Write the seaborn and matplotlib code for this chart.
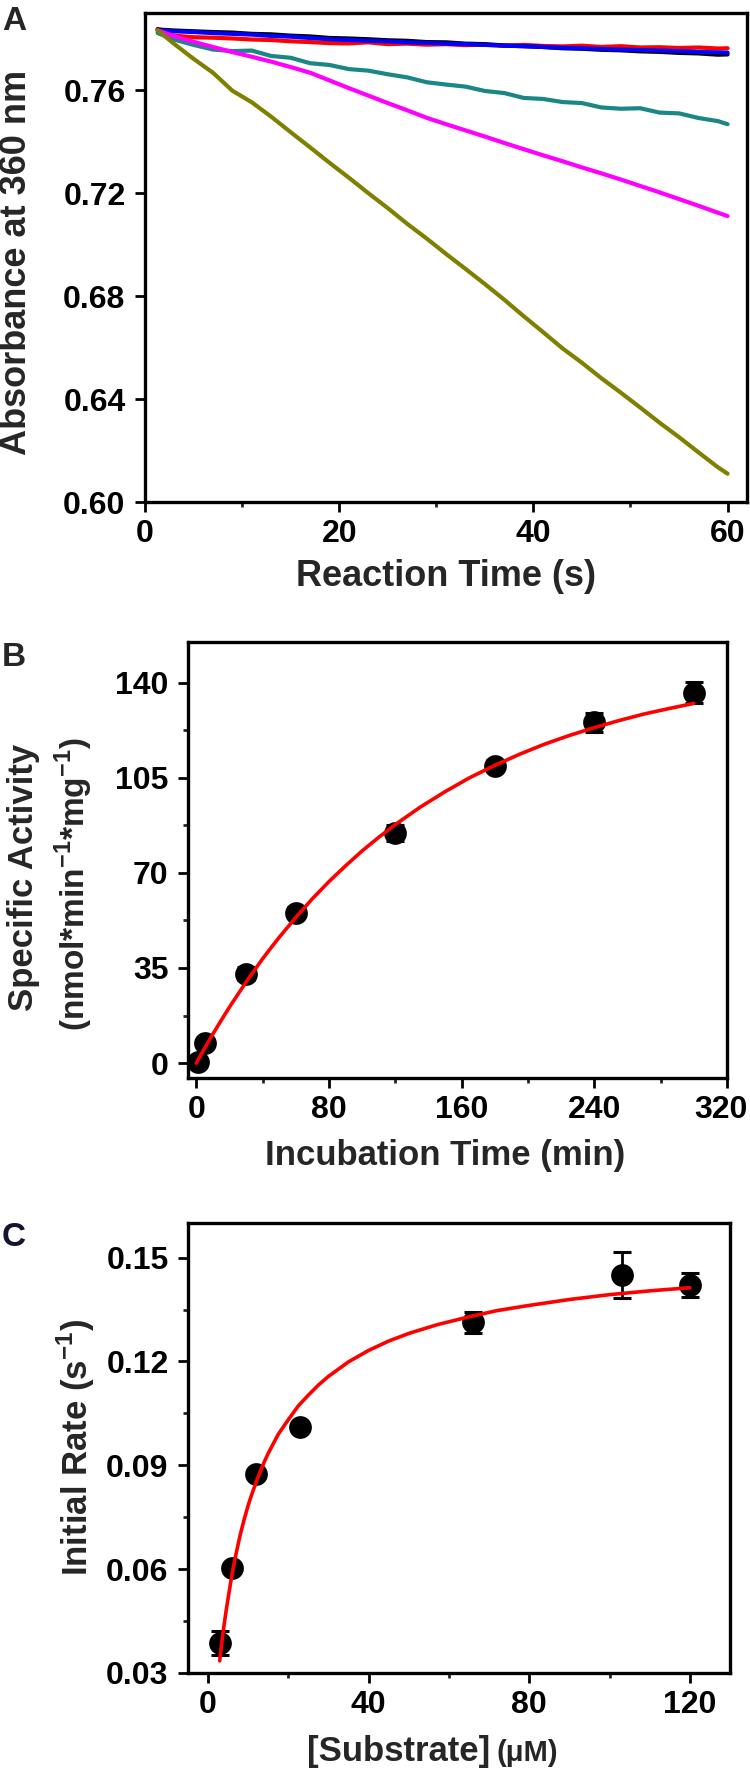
import matplotlib
matplotlib.use("Agg")
import matplotlib.pyplot as plt
import matplotlib.transforms as mtransforms
import seaborn as sns
from matplotlib.ticker import MultipleLocator, FormatStrFormatter

# ---- panel A: absorbance traces at 360 nm ----
time_s = [1.3, 3, 5, 7, 9, 11, 13, 15, 17, 19, 21, 23, 25, 27, 29, 31,
          33, 35, 37, 39, 41, 43, 45, 47, 49, 51, 53, 55, 57, 59, 60]
trace_red = [0.7838, 0.7812, 0.7806, 0.7804, 0.7801, 0.7797, 0.7795, 0.7790,
             0.7787, 0.7783, 0.7782, 0.7786, 0.7779, 0.7781, 0.7777, 0.7779,
             0.7775, 0.7777, 0.7773, 0.7776, 0.7772, 0.7770, 0.7773, 0.7768,
             0.7771, 0.7766, 0.7767, 0.7764, 0.7766, 0.7762, 0.7763]
trace_black = [0.7836, 0.7832, 0.7829, 0.7826, 0.7824, 0.7819, 0.7817, 0.7812,
               0.7809, 0.7803, 0.7801, 0.7798, 0.7794, 0.7792, 0.7787, 0.7786,
               0.7781, 0.7779, 0.7774, 0.7771, 0.7768, 0.7763, 0.7761, 0.7757,
               0.7755, 0.7751, 0.7749, 0.7745, 0.7743, 0.7738, 0.7739]
trace_blue = [0.7832, 0.7829, 0.7826, 0.7822, 0.7819, 0.7816, 0.7811, 0.7808,
              0.7803, 0.7798, 0.7795, 0.7792, 0.7790, 0.7786, 0.7784, 0.7781,
              0.7779, 0.7776, 0.7773, 0.7771, 0.7768, 0.7765, 0.7763, 0.7760,
              0.7758, 0.7756, 0.7754, 0.7752, 0.7749, 0.7747, 0.7746]
trace_teal = [0.7822, 0.7797, 0.7776, 0.7758, 0.7752, 0.7754, 0.7733, 0.7726,
              0.7705, 0.7698, 0.7682, 0.7676, 0.7662, 0.7650, 0.7631, 0.7622,
              0.7614, 0.7597, 0.7589, 0.7570, 0.7566, 0.7554, 0.7550, 0.7533,
              0.7528, 0.7530, 0.7513, 0.7510, 0.7492, 0.7480, 0.7468]
trace_magenta = [0.7833, 0.7810, 0.7788, 0.7768, 0.7748, 0.7730, 0.7711, 0.7690,
                 0.7668, 0.7638, 0.7608, 0.7579, 0.7550, 0.7522, 0.7493, 0.7468,
                 0.7444, 0.7420, 0.7395, 0.7371, 0.7347, 0.7324, 0.7300, 0.7277,
                 0.7253, 0.7228, 0.7203, 0.7177, 0.7151, 0.7124, 0.7111]
trace_olive = [0.7833, 0.7780, 0.7722, 0.7668, 0.7598, 0.7553, 0.7497, 0.7437,
               0.7378, 0.7318, 0.7260, 0.7200, 0.7142, 0.7081, 0.7024, 0.6964,
               0.6906, 0.6847, 0.6786, 0.6722, 0.6660, 0.6597, 0.6541, 0.6481,
               0.6425, 0.6367, 0.6308, 0.6252, 0.6193, 0.6135, 0.6110]
trace_names = ["red", "black", "blue", "teal", "magenta", "olive"]
trace_colors = ["#ff0000", "#000000", "#0000ff", "#1a8686", "#ff00ff", "#808000"]

# ---- panel B: specific activity vs incubation time ----
incub_min = [1, 5, 30, 60, 120, 180, 240, 300]
activity = [0.5, 7.5, 32.9, 55.4, 84.7, 109.4, 125.4, 136.4]
activity_err = [0, 0, 2.3, 2.0, 3.0, 2.0, 3.4, 4.0]
fit_b_t = [0, 5, 10, 15, 20, 30, 40, 45, 50, 60, 70, 80, 90, 100, 110, 120,
           135, 150, 165, 180, 195, 210, 225, 240, 255, 270, 285, 300]
fit_b_y = [0, 5.4, 10.7, 15.7, 20.6, 29.8, 38.4, 42.4, 46.3, 53.6, 60.5, 66.8,
           72.6, 78.1, 83.1, 87.8, 94.2, 99.9, 105.1, 109.6, 113.7, 117.4,
           120.6, 123.5, 126.1, 128.5, 130.5, 132.4]

# ---- panel C: initial rate vs substrate ----
substrate_uM = [3, 6, 12, 23, 66, 103, 120]
init_rate = [0.0387, 0.0603, 0.0875, 0.1011, 0.1313, 0.1450, 0.1421]
init_rate_err = [0.0034, 0, 0, 0, 0.0031, 0.0066, 0.0035]
fit_c_s = [2.9, 3.2, 3.5, 4, 4.5, 5, 6, 7, 8, 9, 10, 11, 12.5, 14, 15, 17.5,
           20, 22.5, 25, 27.5, 30, 35, 40, 45, 50, 57, 65, 72, 80, 90, 100, 110, 120]
fit_c_v = [0.0335, 0.0366, 0.0395, 0.0440, 0.0480, 0.0517, 0.0588, 0.0646,
           0.0699, 0.0744, 0.0785, 0.0820, 0.0868, 0.0910, 0.0935, 0.0990,
           0.1032, 0.1072, 0.1103, 0.1132, 0.1157, 0.1199, 0.1232, 0.1259,
           0.1281, 0.1306, 0.1329, 0.1347, 0.1362, 0.1379, 0.1393, 0.1404, 0.1413]

sns.set_style("ticks")
plt.rcParams["font.family"] = ["Liberation Sans", "DejaVu Sans"]
plt.rcParams["font.weight"] = "bold"
plt.rcParams["mathtext.fontset"] = "custom"
plt.rcParams["mathtext.rm"] = "Liberation Sans:bold"
plt.rcParams["mathtext.bf"] = "Liberation Sans:bold"

W, H = 750, 1770
fig = plt.figure(figsize=(W / 100, H / 100), dpi=100)


def rect(left, top, right, bottom):
    return [left / W, 1 - bottom / H, (right - left) / W, (bottom - top) / H]


def style_axes(ax):
    for sp in ax.spines.values():
        sp.set_visible(True)
        sp.set_linewidth(2.4)
        sp.set_color("black")
    ax.tick_params(which="major", direction="out", length=7, width=2,
                   labelsize=23, colors="black")
    ax.tick_params(which="minor", direction="out", length=3.6, width=2)
    ax.tick_params(axis="x", which="major", pad=5)
    ax.tick_params(axis="y", which="major", pad=7)
    ax.set_xlabel("")
    ax.set_ylabel("")


# panel A
ax_a = fig.add_axes(rect(145, 13, 747, 502))
traces = [trace_red, trace_black, trace_blue, trace_teal, trace_magenta, trace_olive]
for name, vals, col in zip(trace_names, traces, trace_colors):
    sns.lineplot(x=time_s, y=vals, ax=ax_a, color=col, linewidth=3.0)
ax_a.set_xlim(0, 62)
ax_a.set_ylim(0.60, 0.79)
ax_a.xaxis.set_major_locator(MultipleLocator(20))
ax_a.xaxis.set_minor_locator(MultipleLocator(10))
ax_a.set_yticks([0.60, 0.64, 0.68, 0.72, 0.76])
ax_a.yaxis.set_major_formatter(FormatStrFormatter("%.2f"))
style_axes(ax_a)

# panel B
ax_b = fig.add_axes(rect(188, 642, 727, 1078))
ax_b.errorbar(incub_min, activity, yerr=activity_err, fmt="none", ecolor="black",
              elinewidth=2, capsize=6.5, capthick=2.2, zorder=2)
sns.scatterplot(x=incub_min, y=activity, ax=ax_b, s=230, color="black",
                edgecolor="black", zorder=3)
sns.lineplot(x=fit_b_t, y=fit_b_y, ax=ax_b, color="#ff0000", linewidth=2.6, zorder=4)
ax_b.set_xlim(-5, 320)
ax_b.set_ylim(-5.5, 155)
ax_b.xaxis.set_major_locator(MultipleLocator(80))
ax_b.xaxis.set_minor_locator(MultipleLocator(40))
ax_b.yaxis.set_major_locator(MultipleLocator(35))
ax_b.yaxis.set_minor_locator(MultipleLocator(17.5))
style_axes(ax_b)
fig.canvas.draw()
shift = mtransforms.ScaledTranslation(-6 / 100, 0, fig.dpi_scale_trans)
for lab in ax_b.get_xticklabels():
    if lab.get_text() == "320":
        lab.set_transform(lab.get_transform() + shift)

# panel C
ax_c = fig.add_axes(rect(188, 1223, 730, 1673))
ax_c.errorbar(substrate_uM, init_rate, yerr=init_rate_err, fmt="none", ecolor="black",
              elinewidth=2, capsize=6.5, capthick=2.2, zorder=2)
sns.scatterplot(x=substrate_uM, y=init_rate, ax=ax_c, s=230, color="black",
                edgecolor="black", zorder=3)
sns.lineplot(x=fit_c_s, y=fit_c_v, ax=ax_c, color="#ff0000", linewidth=2.6, zorder=4)
ax_c.set_xlim(-5, 130)
ax_c.set_ylim(0.03, 0.16)
ax_c.xaxis.set_major_locator(MultipleLocator(40))
ax_c.xaxis.set_minor_locator(MultipleLocator(20))
ax_c.set_yticks([0.03, 0.06, 0.09, 0.12, 0.15])
ax_c.yaxis.set_minor_locator(MultipleLocator(0.015))
ax_c.yaxis.set_major_formatter(FormatStrFormatter("%.2f"))
style_axes(ax_c)


def ftext(x, y, s, **kw):
    fig.text(x / W, 1 - y / H, s, **kw)


# panel letters
ftext(2, 21, "A", fontsize=24, ha="left", va="center")
ftext(2, 657, "B", fontsize=24, ha="left", va="center")
ftext(2, 1238, "C", fontsize=24, ha="left", va="center", color="#141432")

# axis titles
ftext(446, 577, "Reaction Time (s)", fontsize=26, ha="center", va="center")
ftext(17, 262, "Absorbance at 360 nm", fontsize=26, rotation=90,
      ha="center", va="center")
ftext(445, 1156, "Incubation Time (min)", fontsize=25, ha="center", va="center")
ftext(24, 877, "Specific Activity", fontsize=25, rotation=90, ha="center", va="center")
ftext(74, 884, r"(nmol*min$^{-1}$*mg$^{-1}$)", fontsize=24, rotation=90,
      ha="center", va="center")
ftext(490, 1761, "[Substrate]", fontsize=25, ha="right", va="baseline")
ftext(497, 1761, "(\u03bcM)", fontsize=21, ha="left", va="baseline")
ftext(76, 1447, r"Initial Rate (s$^{-1}$)", fontsize=25, rotation=90,
      ha="center", va="center")

fig.savefig("out.png", dpi=100, facecolor="white")
